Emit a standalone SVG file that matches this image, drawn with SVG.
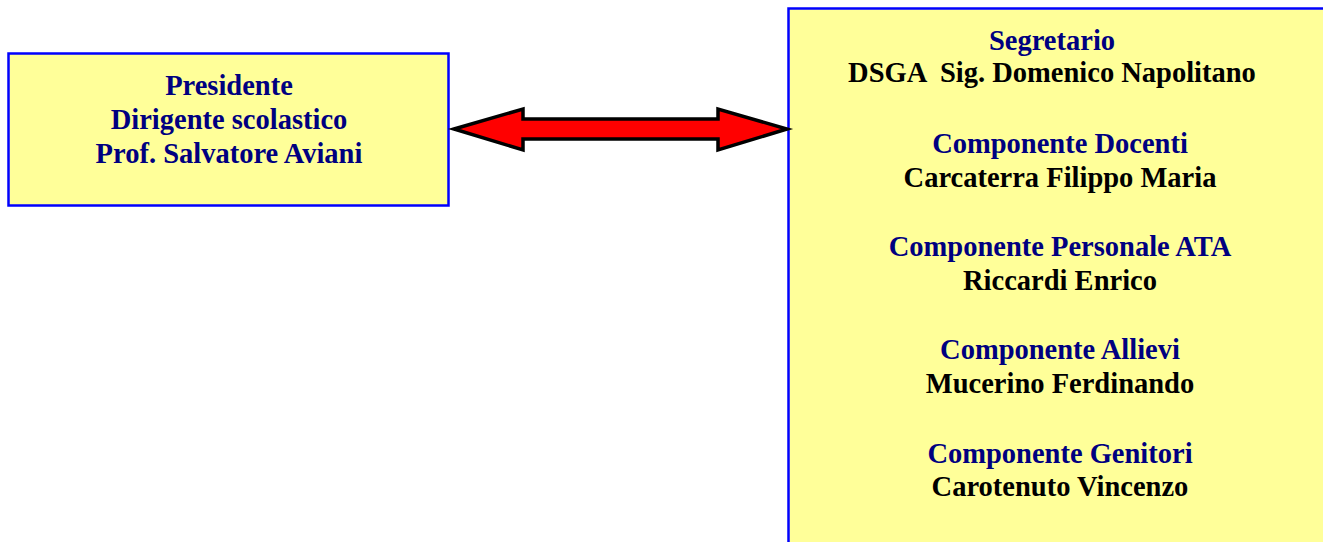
<svg xmlns="http://www.w3.org/2000/svg" width="1323" height="542" viewBox="0 0 1323 542">
<style>
.box{fill:#FFFF99;stroke:#0000FF;stroke-width:2.5}
text{font-family:"Liberation Serif","Times New Roman",serif;font-weight:bold;font-size:28.5px;text-anchor:middle}
.h{fill:#000080}
.n{fill:#000000}
</style>
<rect width="1323" height="542" fill="#FFFFFF"/>
<g id="presidente">
<rect class="box" x="8.5" y="53.5" width="440" height="152"/>
<text class="h" x="229" y="95">Presidente</text>
<text class="h" x="229" y="129">Dirigente scolastico</text>
<text class="h" x="229" y="163">Prof. Salvatore Aviani</text>
</g>
<g id="giunta">
<rect class="box" x="788.5" y="8.5" width="545" height="545"/>
<text class="h" x="1052" y="50">Segretario</text>
<text class="n" x="1052" y="82" xml:space="preserve">DSGA  Sig. Domenico Napolitano</text>
<text class="h" x="1060" y="153">Componente Docenti</text>
<text class="n" x="1060" y="187">Carcaterra Filippo Maria</text>
<text class="h" x="1060" y="256">Componente Personale ATA</text>
<text class="n" x="1060" y="290">Riccardi Enrico</text>
<text class="h" x="1060" y="359">Componente Allievi</text>
<text class="n" x="1060" y="393">Mucerino Ferdinando</text>
<text class="h" x="1060" y="463">Componente Genitori</text>
<text class="n" x="1060" y="496">Carotenuto Vincenzo</text>
</g>
<g id="connectors">
<polygon points="454,129 523,109 523,119 718,119 718,109 787,129 718,150 718,139 523,139 523,150" fill="#FF0000" stroke="#000000" stroke-width="3.5" stroke-linejoin="miter"/>
</g>
</svg>
